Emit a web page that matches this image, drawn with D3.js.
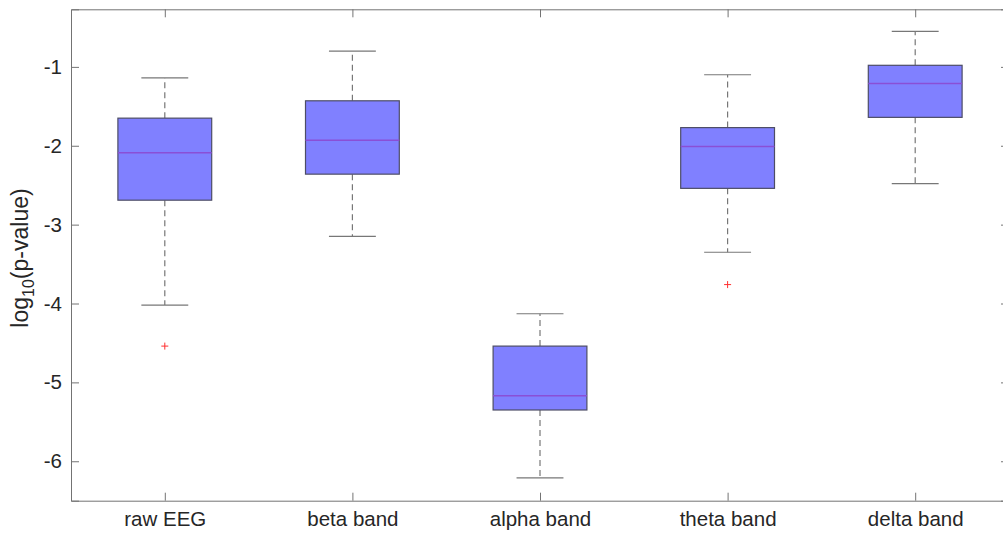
<!DOCTYPE html>
<html>
<head>
<meta charset="utf-8">
<script src="https://cdn.jsdelivr.net/npm/d3@7"></script>
<style>
  html, body { margin: 0; padding: 0; background: #fff; overflow: hidden; }
  svg { display: block; font-family: "Liberation Sans", Arial, Helvetica, sans-serif; }
</style>
</head>
<body>
<svg id="chart" width="1003" height="536"></svg>
<script>
// Per-band box statistics of log10(p-value)
const categories = ["raw EEG", "beta band", "alpha band", "theta band", "delta band"];
const upperWhisker = [-1.14, -0.80, -4.13, -1.10, -0.55];
const q3 = [-1.65, -1.43, -4.54, -1.77, -0.98];
const median = [-2.09, -1.93, -5.17, -2.01, -1.21];
const q1 = [-2.69, -2.36, -5.35, -2.54, -1.64];
const lowerWhisker = [-4.02, -3.15, -6.21, -3.35, -2.48];
const outliers = [[-4.54], [], [], [-3.76], []];
const yTicks = [-6, -5, -4, -3, -2, -1];
const yLabel = "log";
const yLabelSub = "10";
const yLabelRest = "(p-value)";

const svg = d3.select("#chart");
const plotLeft = 71, plotRight = 1009, plotTop = 9.3, plotBottom = 500.7;

const x = d3.scaleLinear().domain([0.5, categories.length + 0.5]).range([plotLeft, plotRight]);
const y = d3.scaleLinear().domain([-6.5, -0.27]).range([plotBottom, plotTop]);

const axisColor = "#737373";
const textColor = "#262626";
const boxHalf = 0.25, capHalf = 0.125;

const data = categories.map((c, i) => ({
  i: i + 1, name: c,
  hi: upperWhisker[i], q3: q3[i], med: median[i], q1: q1[i], lo: lowerWhisker[i],
  out: outliers[i]
}));

// Whiskers (dashed) and caps
const g = svg.append("g");
data.forEach(d => {
  g.append("line")
    .attr("x1", x(d.i)).attr("x2", x(d.i))
    .attr("y1", y(d.q3)).attr("y2", y(d.hi))
    .attr("stroke", "#777").attr("stroke-width", 1.2).attr("stroke-dasharray", "6,4");
  g.append("line")
    .attr("x1", x(d.i)).attr("x2", x(d.i))
    .attr("y1", y(d.q1)).attr("y2", y(d.lo))
    .attr("stroke", "#777").attr("stroke-width", 1.2).attr("stroke-dasharray", "6,4");
  [d.hi, d.lo].forEach(v => {
    g.append("line")
      .attr("x1", x(d.i - capHalf)).attr("x2", x(d.i + capHalf))
      .attr("y1", y(v)).attr("y2", y(v))
      .attr("stroke", "#777").attr("stroke-width", 1.2);
  });
});

// Boxes
g.selectAll("rect.box").data(data).join("rect")
  .attr("class", "box")
  .attr("x", d => x(d.i - boxHalf))
  .attr("width", d => x(d.i + boxHalf) - x(d.i - boxHalf))
  .attr("y", d => y(d.q3))
  .attr("height", d => y(d.q1) - y(d.q3))
  .attr("fill", "#8080ff")
  .attr("stroke", "#4d4d66").attr("stroke-width", 1.2);

// Medians
g.selectAll("line.med").data(data).join("line")
  .attr("class", "med")
  .attr("x1", d => x(d.i - boxHalf)).attr("x2", d => x(d.i + boxHalf))
  .attr("y1", d => y(d.med)).attr("y2", d => y(d.med))
  .attr("stroke", "#8a4fd6").attr("stroke-width", 1.5);

// Outliers as red plus markers
data.forEach(d => {
  d.out.forEach(v => {
    const cx = x(d.i), cy = y(v), s = 3.5;
    g.append("path")
      .attr("d", `M${cx - s},${cy}H${cx + s}M${cx},${cy - s}V${cy + s}`)
      .attr("stroke", "#ff3030").attr("stroke-width", 1);
  });
});

// Axes with inward ticks on all four sides
const tickLen = 8;
const yAxis = d3.axisLeft(y).tickValues(yTicks).tickFormat(d => String(d))
  .tickSize(-tickLen).tickPadding(9);
const xAxis = d3.axisBottom(x).tickValues(d3.range(1, categories.length + 1))
  .tickFormat(d => categories[d - 1]).tickSize(-tickLen).tickPadding(11);

svg.append("g").attr("transform", `translate(${plotLeft},0)`).call(yAxis);
svg.append("g").attr("transform", `translate(0,${plotBottom})`).call(xAxis);
svg.append("g").attr("transform", `translate(${plotRight},0)`)
  .call(d3.axisRight(y).tickValues(yTicks).tickSize(-tickLen).tickFormat(""));
svg.append("g").attr("transform", `translate(0,${plotTop})`)
  .call(d3.axisTop(x).tickValues(d3.range(1, categories.length + 1)).tickSize(-tickLen).tickFormat(""));

svg.selectAll(".domain").attr("stroke", axisColor).attr("stroke-width", 1);
svg.selectAll(".tick line").attr("stroke", axisColor).attr("stroke-width", 1);
svg.selectAll(".tick text").attr("fill", textColor).attr("font-size", 20.5)
  .attr("font-family", "'Liberation Sans', Arial, Helvetica, sans-serif");

// Y axis title with subscript
const yt = svg.append("text")
  .attr("transform", `translate(28,${(plotTop + plotBottom) / 2 + 3}) rotate(-90)`)
  .attr("text-anchor", "middle")
  .attr("fill", textColor)
  .attr("font-size", 23);
yt.append("tspan").text(yLabel);
yt.append("tspan").attr("font-size", 16).attr("dy", 6).text(yLabelSub);
yt.append("tspan").attr("dy", -6).text(yLabelRest);
</script>
</body>
</html>
